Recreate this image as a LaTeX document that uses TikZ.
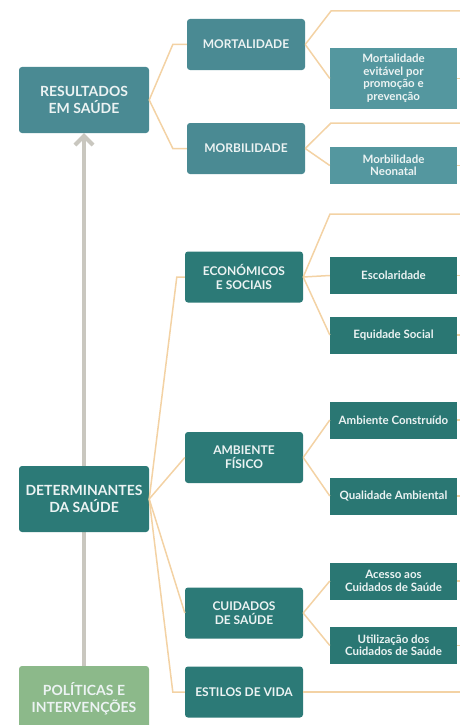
\documentclass[tikz,border=0pt]{standalone}
\usepackage{fontspec}
\setmainfont{Lato}
\usetikzlibrary{arrows.meta,positioning,backgrounds}
\definecolor{tealA}{HTML}{4A8A93}
\definecolor{tealB}{HTML}{54979F}
\definecolor{tealC}{HTML}{2C7A77}
\definecolor{tealD}{HTML}{2A7773}
\definecolor{greenA}{HTML}{8CB98A}
\definecolor{linkorange}{HTML}{F3D2A4}
\definecolor{arrowgray}{HTML}{C9C7BF}
\definecolor{boxtext}{HTML}{ECF3F3}
\tikzset{
    box/.style ={rectangle, text=boxtext, align=center, inner sep=2pt},
    big/.style ={box, rounded corners=3pt, minimum width=130pt, minimum height=66pt,
        font=\fontsize{14}{17}\selectfont\bfseries},
    mid/.style ={box, rounded corners=3pt, minimum width=118pt, minimum height=51pt,
        font=\fontsize{12}{14}\selectfont\bfseries},
    leaf/.style ={box, minimum width=127pt, minimum height=37pt,
        font=\fontsize{11.5}{12.5}\selectfont\bfseries},
    link/.style ={draw=linkorange, line width=1.5pt},
    upward/.style ={draw=arrowgray, line width=4pt, -{Straight Barb[length=9pt,width=18pt]}}
}
\begin{document}
\begin{tikzpicture}[x=1pt,y=-1pt]
    \clip (0,0) rectangle (460,725);
    % outcomes
    \node (1) [big, fill=tealA] at (84,100) {RESULTADOS\\EM SAÚDE};
    \node (2) [mid, fill=tealA] at (246,44.5) {MORTALIDADE};
    \node (3) [mid, fill=tealA] at (246,148.5) {MORBILIDADE};
    \node (4) [leaf, fill=tealB, minimum height=61pt] at (393.5,78.5) {Mortalidade\\evitável por\\promoção e\\prevenção};
    \node (5) [leaf, fill=tealB] at (393.5,165.5) {Morbilidade\\Neonatal};
    % determinants
    \node (6) [big, fill=tealC] at (84,499) {DETERMINANTES\\DA SAÚDE};
    \node (7) [mid, fill=tealC] at (244,277) {ECONÓMICOS\\E SOCIAIS};
    \node (8) [leaf, fill=tealD] at (393.5,275.5) {Escolaridade};
    \node (9) [leaf, fill=tealD] at (393.5,335) {Equidade Social};
    \node (10) [mid, fill=tealC] at (244,457.5) {AMBIENTE\\FÍSICO};
    \node (11) [leaf, fill=tealD] at (393.5,420) {Ambiente Construído};
    \node (12) [leaf, fill=tealD] at (393.5,496) {Qualidade Ambiental};
    \node (13) [mid, fill=tealC] at (244,613) {CUIDADOS\\DE SAÚDE};
    \node (14) [leaf, fill=tealD] at (393.5,581) {Acesso aos\\Cuidados de Saúde};
    \node (15) [leaf, fill=tealD] at (393.5,645.5) {Utilização dos\\Cuidados de Saúde};
    \node (16) [mid, fill=tealC] at (244,692) {ESTILOS DE VIDA};
    % policies
    \node (17) [big, fill=greenA] at (84,699) {POLÍTICAS E\\INTERVENÇÕES};

    \coordinate (t1) at (331,11);
    \coordinate (t2) at (331,123);
    \coordinate (t3) at (330,214);

    \begin{scope}[on background layer]
    \draw[upward] (17.north) -- (1.south);
    \end{scope}

    \draw[link] (1.east) -- ([xshift=-14pt]2.west) -- (2.west);
    \draw[link] (1.east) -- ([xshift=-14pt]3.west) -- (3.west);
    \draw[link] (2.east) -- (t1) -- ++(140,0);
    \draw[link] (2.east) -- (4.west);
    \draw[link] (3.east) -- (t2) -- ++(140,0);
    \draw[link] (3.east) -- (5.west);
    \draw[link] (4.east) -- ++(10,0);
    \draw[link] (5.east) -- ++(10,0);

    \draw[link] (6.east) -- ([xshift=-8pt]7.west) -- (7.west);
    \draw[link] (6.east) -- (10.west);
    \draw[link] (6.east) -- (13.west);
    \draw[link] (6.east) -- ([xshift=-12pt]16.west) -- (16.west);
    \draw[link] (7.east) -- (t3) -- ++(140,0);
    \draw[link] (7.east) -- (8.west);
    \draw[link] (7.east) -- (9.west);
    \draw[link] (10.east) -- (11.west);
    \draw[link] (10.east) -- (12.west);
    \draw[link] (13.east) -- (14.west);
    \draw[link] (13.east) -- (15.west);
    \foreach \n in {8,9,11,12,14,15}
        \draw[link] (\n.east) -- ++(10,0);
    \draw[link] (16.east) -- ++(170,0);
\end{tikzpicture}
\end{document}
